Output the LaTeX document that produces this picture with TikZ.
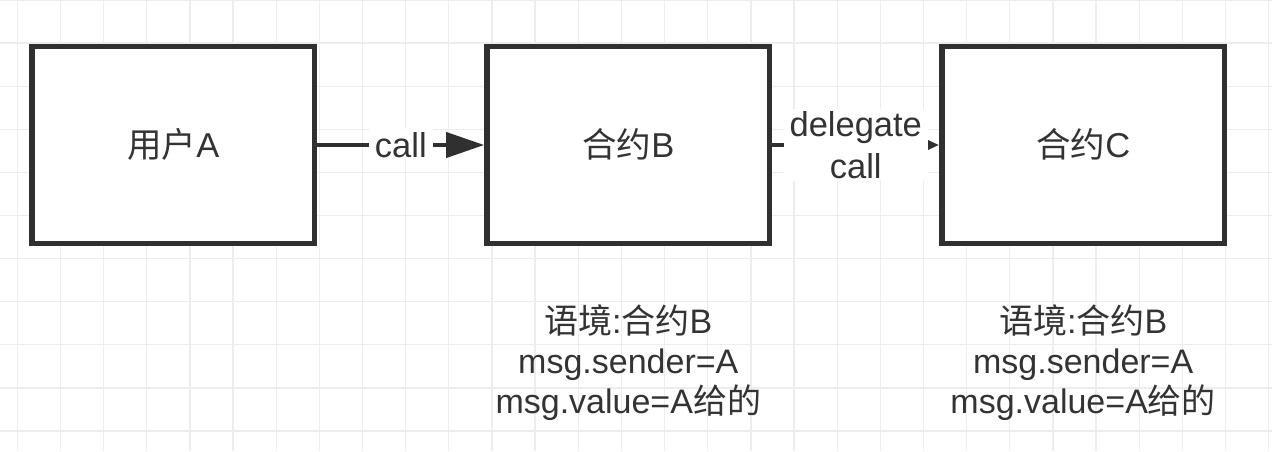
\documentclass[tikz,border=0pt]{standalone}
\usepackage{fontspec}
\setmainfont{Liberation Sans}
\newfontfamily\cjk{Noto Sans CJK SC}
\newcommand{\zhtxt}[1]{{\cjk #1}}
\usetikzlibrary{arrows.meta}
\definecolor{ink}{HTML}{303030}
\definecolor{txt}{HTML}{333333}
\definecolor{gridc}{HTML}{EDEDED}
\begin{document}
\begin{tikzpicture}[x=1pt,y=-1pt,
  box/.style={draw=ink,line width=5.5pt,fill=white,minimum width=282.7pt,minimum height=197pt,
    inner sep=0pt,text=txt,font=\fontsize{34.5}{40}\selectfont,text height=24.4pt,text depth=0pt},
  conn/.style={draw=ink,line width=4pt},
  elabel/.style={fill=white,text=txt,inner xsep=6pt,inner ysep=3pt,font=\fontsize{34.5}{41.6}\selectfont,align=center},
  ctx/.style={text=txt,inner sep=0pt,font=\fontsize{34}{40.3}\selectfont,align=center}]
\useasboundingbox (0,0) rectangle (1272,451);
\fill[white] (0,0) rectangle (1272,451);
% grid
\foreach \k in {0,...,29} {\draw[gridc,line width=1.3pt] (17.3+43.15*\k,0) -- (17.3+43.15*\k,451);}
\foreach \k in {0,...,10} {\draw[gridc,line width=1.3pt] (0,43.1*\k) -- (1272,43.1*\k);}
% boxes
\node[box] (A) at (173.3,145) {\zhtxt{用户}A};
\node[box] (B) at (628.3,145) {\zhtxt{合约}B};
\node[box] (C) at (1083.2,145) {\zhtxt{合约}C};
% connectors
\draw[conn,-{Triangle[length=38pt,width=25pt]}] (A.east) -- node[elabel] (lcall) {call} (B.west);
\draw[conn,-{Triangle[length=11pt,width=9pt]}] (B.east) -- node[elabel] (ldel) {delegate\\call} (C.west);
% context texts
\node[ctx] (ctxB) at (628.3,362.5) {\zhtxt{语境}:\zhtxt{合约}B\\msg.sender=A\\msg.value=A\zhtxt{给的}};
\node[ctx] (ctxC) at (1083.2,362.5) {\zhtxt{语境}:\zhtxt{合约}B\\msg.sender=A\\msg.value=A\zhtxt{给的}};
\end{tikzpicture}
\end{document}
